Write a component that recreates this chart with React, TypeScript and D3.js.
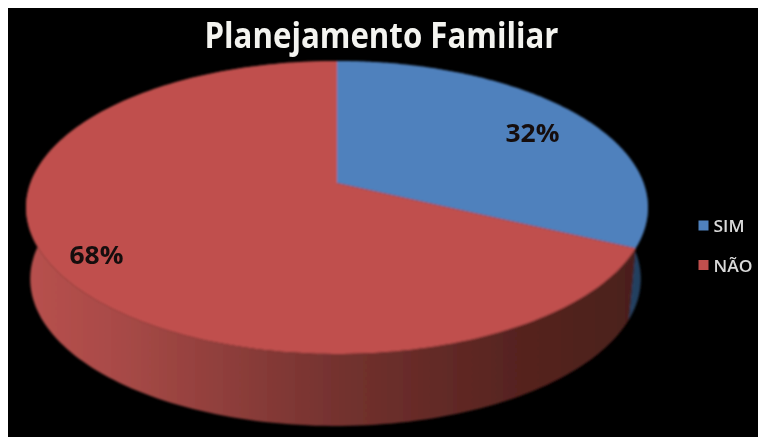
import React from "react";
import * as d3 from "d3";

const categories = ["SIM", "NÃO"];
const seriesValues = [32, 68];
const percentLabels = ["32%", "68%"];
const topColors = ["#4f81bd", "#c0504d"];
const sideStops = [
  ["#3d6594", "#3d6594", "#35587f", "#2a4566", "#24405f"],
  ["#b8514e", "#a84a47", "#74322f", "#55231f", "#4a1f1b"],
];
const stopOffsets = [0, 0.15, 0.5, 0.8, 1];

const W = 758, H = 437;
const cx = 337, apexY = 183;
const k = 0.167, a = 306.6, b = 142.4;
const bottomCx = 335.5, bottomA = 301, bottomB = 142.9, bottomApexY = 254.4;

function rim(t: number, X: number, A: number, B: number, Y: number): [number, number] {
  const u = Math.sin(t), v = -Math.cos(t);
  const d = 1 - k * v;
  return [X + (A * u) / d, Y + (B * v) / d];
}
const top = (t: number) => rim(t, cx, a, b, apexY);
const bot = (t: number) => rim(t, bottomCx, bottomA, bottomB, bottomApexY);

const line = d3.line();
const arcs = d3.pie<number>().sort(null)(seriesValues);
const samples = (s: number, e: number) => d3.range(0, 181).map((i) => s + ((e - s) * i) / 180);

export default function App() {
  return (
    <svg width={W} height={H} style={{ position: "absolute", left: 0, top: 0, display: "block" }}
      fontFamily="'Open Sans', 'Noto Sans', sans-serif">
      <defs>
        <filter id="soft" x="-5%" y="-5%" width="110%" height="110%">
          <feGaussianBlur stdDeviation="0.8" />
        </filter>
        <filter id="softText" x="-5%" y="-20%" width="110%" height="140%">
          <feGaussianBlur stdDeviation="0.45" />
        </filter>
        {arcs.map((d, i) => (
          <linearGradient key={i} id={`side${i}`} gradientUnits="userSpaceOnUse" x1={26} x2={648} y1={0} y2={0}>
            {stopOffsets.map((o, j) => (
              <stop key={j} offset={o} stopColor={sideStops[i][j]} />
            ))}
          </linearGradient>
        ))}
      </defs>
      <rect width={W} height={H} fill="#fff" />
      <rect x={8} y={8} width={W - 8} height={H - 8} fill="#000" />
      <g filter="url(#soft)">
        {arcs.map((d, i) => {
          const ts = samples(d.startAngle, d.endAngle);
          const band = [...ts.map((t) => top(t)), ...[...ts].reverse().map((t) => bot(t))];
          return <path key={i} d={line(band) + "Z"} fill={`url(#side${i})`} />;
        })}
        {arcs.map((d, i) => {
          const ts = samples(d.startAngle, d.endAngle);
          const face = [[cx, apexY] as [number, number], ...ts.map((t) => top(t))];
          return <path key={i} d={line(face) + "Z"} fill={topColors[i]} />;
        })}
      </g>
      <g filter="url(#softText)">
        <text x={381.5} y={48} textAnchor="middle" fontSize={35} fontWeight={700} fill="#f4f4f0"
          textLength={354} lengthAdjust="spacingAndGlyphs">Planejamento Familiar</text>
        <text x={532.5} y={142} textAnchor="middle" fontSize={25} fontWeight={700} fill="#14100f"
          textLength={54} lengthAdjust="spacingAndGlyphs">{percentLabels[0]}</text>
        <text x={96.5} y={264} textAnchor="middle" fontSize={25} fontWeight={700} fill="#14100f"
          textLength={54} lengthAdjust="spacingAndGlyphs">{percentLabels[1]}</text>
        {categories.map((c, i) => (
          <g key={c}>
            <rect x={698.5} y={220.5 + i * 39.5} width={10} height={10} fill={topColors[i]} />
            <text x={713.5} y={232 + i * 39.5} fontSize={16} fontWeight={600} fill="#d9d9d9"
              textLength={i === 0 ? 31 : 39} lengthAdjust="spacingAndGlyphs">{c}</text>
          </g>
        ))}
      </g>
    </svg>
  );
}
